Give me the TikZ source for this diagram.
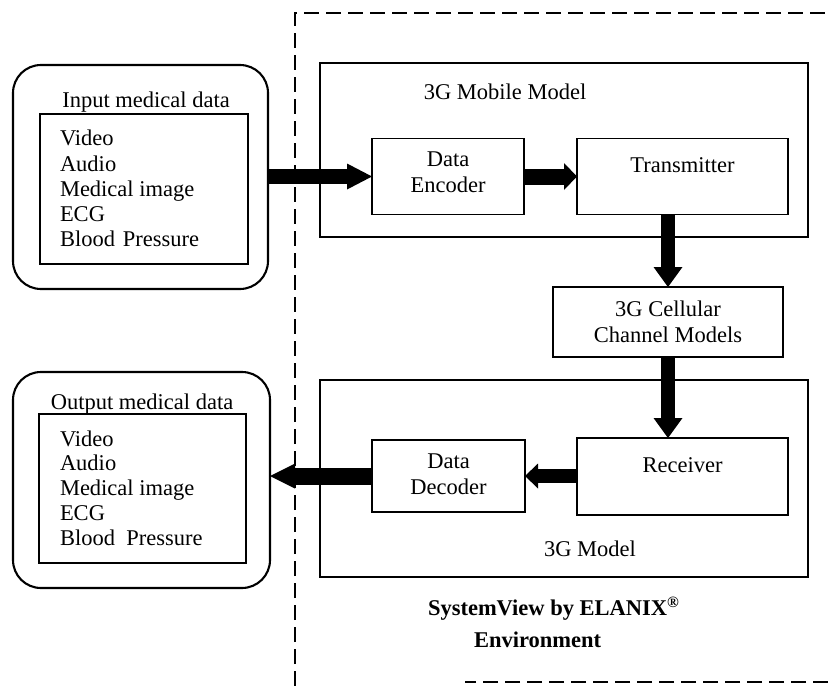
\documentclass[tikz,border=0pt]{standalone}
\usepackage{fontspec}
\setmainfont{Liberation Serif}
\usetikzlibrary{arrows.meta}
\begin{document}
\begin{tikzpicture}[x=1bp,y=-1bp,
  every node/.style={inner sep=0pt, outer sep=0pt},
  txt/.style={font=\fontsize{22.5bp}{26bp}\selectfont},
  boldtxt/.style={font=\fontsize{22.5bp}{26bp}\selectfont\bfseries},
  blockframe/.style={draw, line width=1.9bp, txt, align=center},
  plainframe/.style={draw, line width=1.9bp},
  roundframe/.style={draw, line width=2.1bp, rounded corners=28bp},
  envline/.style={line width=2.8bp, dash pattern=on 15bp off 7bp},
  fat/.style n args={3}{line width=#1, -{Triangle[length=#3, width=#2, line width=0pt]}},
]
\useasboundingbox (0,0) rectangle (828,686);

% SystemView environment boundary
\draw[envline] (295,686) -- (295,13) -- (828,13);
\draw[envline] (828,682) -- (465,682);

% input medical data
\node[roundframe, minimum width=255bp, minimum height=224bp] (inbox) at (140.5,177) {};
\node[plainframe, minimum width=208bp, minimum height=150bp] (inlist) at (144,189) {};
\node[txt, anchor=base] (intitle) at (146,108) {Input medical data};
\node[txt, anchor=base west] (in1) at (60,146) {Video};
\node[txt, anchor=base west] (in2) at (60,171) {Audio};
\node[txt, anchor=base west] (in3) at (60,196) {Medical image};
\node[txt, anchor=base west] (in4) at (60,221) {ECG};
\node[txt, anchor=base west] (in5) at (60,246) {Blood\hspace{0.35em}Pressure};

% output medical data
\node[roundframe, minimum width=257bp, minimum height=216bp] (outbox) at (141.5,480) {};
\node[plainframe, minimum width=207bp, minimum height=149bp] (outlist) at (142.5,488.5) {};
\node[txt, anchor=base] (outtitle) at (142,409) {Output medical data};
\node[txt, anchor=base west] (out1) at (60,446) {Video};
\node[txt, anchor=base west] (out2) at (60,470.75) {Audio};
\node[txt, anchor=base west] (out3) at (60,495.5) {Medical image};
\node[txt, anchor=base west] (out4) at (60,520.25) {ECG};
\node[txt, anchor=base west] (out5) at (60,545) {Blood\hspace{0.5em}Pressure};

% 3G mobile model
\node[plainframe, minimum width=488bp, minimum height=174bp] (mobile) at (564,150) {};
\node[txt, anchor=base] (mobiletitle) at (505,100) {3G Mobile Model};
\node[blockframe, minimum width=152bp, minimum height=76bp] (enc) at (448,176.5)
  {Data\\Encoder\rule[-8bp]{0pt}{0pt}};
\node[blockframe, minimum width=211bp, minimum height=76bp, text height=15.5bp, text depth=23bp]
  (tx) at (682.5,176.5) {Transmitter};

% cellular channel
\node[blockframe, minimum width=230bp, minimum height=70bp] (cell) at (668,322)
  {3G Cellular\\Channel Models};

% 3G model (receiving side)
\node[plainframe, minimum width=488bp, minimum height=197bp] (model) at (564,478.5) {};
\node[txt, anchor=base] (modeltitle) at (590,556) {3G Model};
\node[blockframe, minimum width=211bp, minimum height=77bp, text height=15.5bp, text depth=24bp]
  (rx) at (682.5,476.5) {Receiver};
\node[blockframe, minimum width=153bp, minimum height=72bp] (dec) at (448.5,476)
  {Data\\Decoder\rule[-4bp]{0pt}{0pt}};

% environment caption
\node[boldtxt, anchor=base west] (svname) at (428,615) {SystemView by ELANIX\textsuperscript{\textregistered}};
\node[boldtxt, anchor=base west] (svenv) at (474,647) {Environment};

% data flow
\draw[fat={15bp}{26bp}{25bp}] (inbox.east |- enc.west) -- (enc.west);
\draw[fat={16bp}{27bp}{13bp}] (enc.east) -- (tx.west);
\draw[fat={14bp}{29bp}{20bp}] (cell.north |- tx.south) -- (cell.north);
\draw[fat={14bp}{29bp}{20bp}] (cell.south) -- (cell.south |- rx.north);
\draw[fat={14bp}{25bp}{13bp}] (rx.west |- dec.east) -- (dec.east);
\draw[fat={17bp}{25bp}{25bp}] (dec.west) -- (dec.west -| outbox.east);
\end{tikzpicture}
\end{document}
